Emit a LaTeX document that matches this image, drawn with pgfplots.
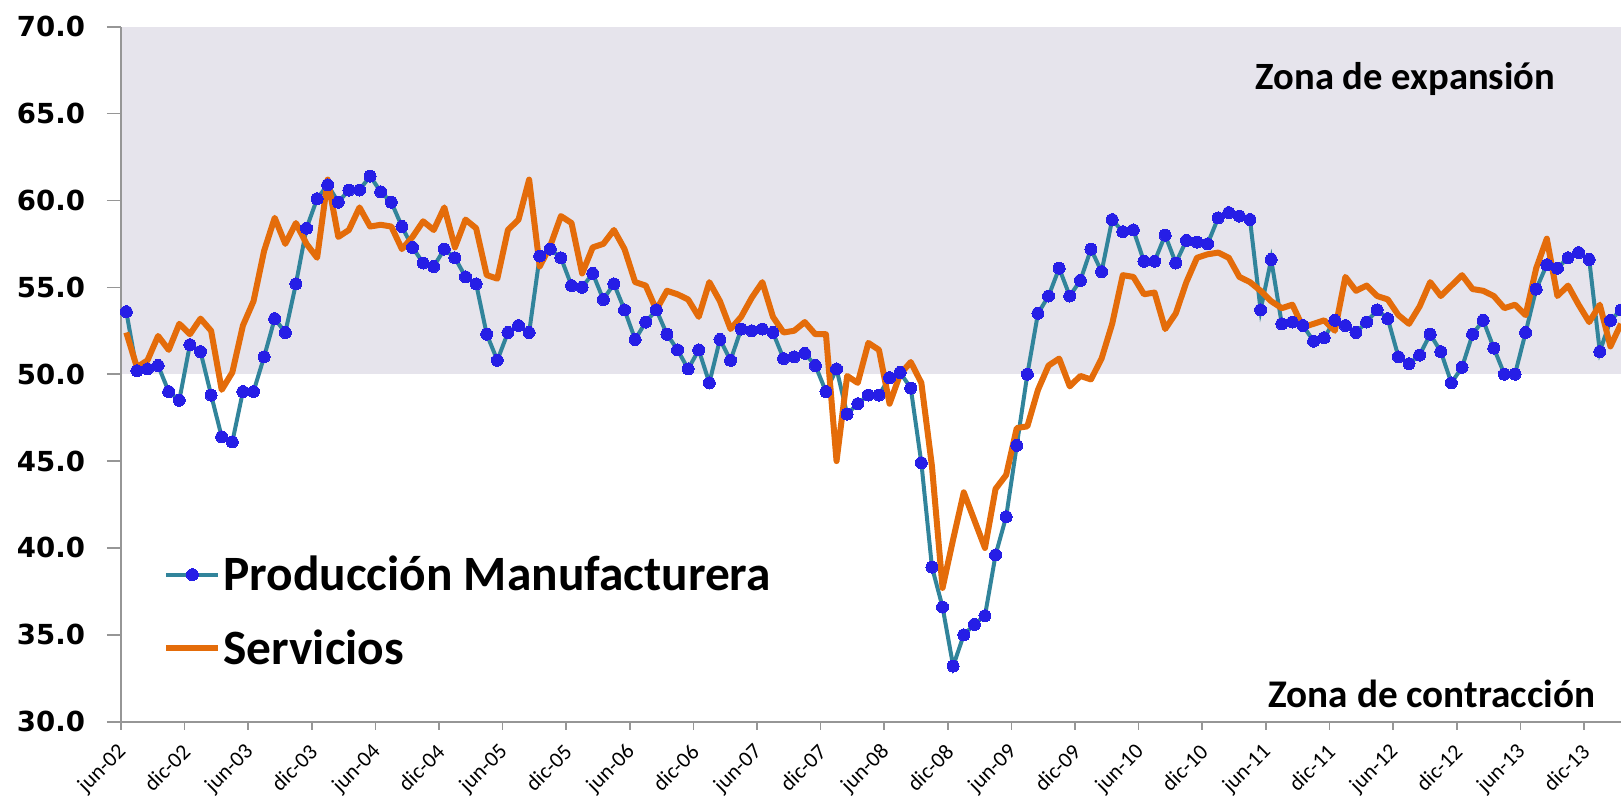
\documentclass[border=0pt]{standalone}
\usepackage{fontspec}
\setmainfont{Carlito}
\newfontfamily\dejavu{DejaVu Sans}
\usepackage{pgfplots}
\usepackage{pgfplotstable}
\pgfplotsset{compat=1.18}

\definecolor{zona}{RGB}{230,228,236}
\definecolor{tealline}{RGB}{49,132,155}
\definecolor{markblue}{RGB}{38,30,230}
\definecolor{servorange}{RGB}{228,108,10}
\definecolor{axisgray}{RGB}{150,150,150}

% month index (0 = jun-02), manufacturing, services
\pgfplotstableread{
m pm sv
0 53.6 52.4
1 50.2 50.4
2 50.3 50.8
3 50.5 52.2
4 49.0 51.4
5 48.5 52.9
6 51.7 52.3
7 51.3 53.2
8 48.8 52.5
9 46.4 49.1
10 46.1 50.1
11 49.0 52.8
12 49.0 54.2
13 51.0 57.1
14 53.2 59.0
15 52.4 57.5
16 55.2 58.7
17 58.4 57.5
18 60.1 56.7
19 60.9 61.2
20 59.9 57.9
21 60.6 58.3
22 60.6 59.6
23 61.4 58.5
24 60.5 58.6
25 59.9 58.5
26 58.5 57.2
27 57.3 57.9
28 56.4 58.8
29 56.2 58.3
30 57.2 59.6
31 56.7 57.3
32 55.6 58.9
33 55.2 58.4
34 52.3 55.7
35 50.8 55.5
36 52.4 58.3
37 52.8 58.9
38 52.4 61.2
39 56.8 56.2
40 57.2 57.4
41 56.7 59.1
42 55.1 58.7
43 55.0 55.8
44 55.8 57.3
45 54.3 57.5
46 55.2 58.3
47 53.7 57.2
48 52.0 55.3
49 53.0 55.1
50 53.7 53.7
51 52.3 54.8
52 51.4 54.6
53 50.3 54.3
54 51.4 53.3
55 49.5 55.3
56 52.0 54.2
57 50.8 52.6
58 52.6 53.3
59 52.5 54.4
60 52.6 55.3
61 52.4 53.3
62 50.9 52.4
63 51.0 52.5
64 51.2 53.0
65 50.5 52.3
66 49.0 52.3
67 50.3 45.0
68 47.7 49.9
69 48.3 49.5
70 48.8 51.8
71 48.8 51.4
72 49.8 48.3
73 50.1 50.0
74 49.2 50.7
75 44.9 49.5
76 38.9 44.7
77 36.6 37.7
78 33.2 40.5
79 35.0 43.2
80 35.6 41.6
81 36.1 40.0
82 39.6 43.4
83 41.8 44.2
84 45.9 46.9
85 50.0 47.0
86 53.5 49.1
87 54.5 50.5
88 56.1 50.9
89 54.5 49.3
90 55.4 49.9
91 57.2 49.7
92 55.9 50.9
93 58.9 52.9
94 58.2 55.7
95 58.3 55.6
96 56.5 54.6
97 56.5 54.7
98 58.0 52.6
99 56.4 53.5
100 57.7 55.3
101 57.6 56.7
102 57.5 56.9
103 59.0 57.0
104 59.3 56.7
105 59.1 55.6
106 58.9 55.3
107 53.7 54.8
108 56.6 54.2
109 52.9 53.8
110 53.0 54.0
111 52.8 52.7
112 51.9 52.9
113 52.1 53.1
114 53.1 52.5
115 52.8 55.6
116 52.4 54.8
117 53.0 55.1
118 53.7 54.5
119 53.2 54.3
120 51.0 53.4
121 50.6 52.9
122 51.1 53.9
123 52.3 55.3
124 51.3 54.5
125 49.5 55.1
126 50.4 55.7
127 52.3 54.9
128 53.1 54.8
129 51.5 54.5
130 50.0 53.8
131 50.0 54.0
132 52.4 53.4
133 54.9 56.1
134 56.3 57.8
135 56.1 54.5
136 56.7 55.1
137 57.0 54.0
138 56.6 53.0
139 51.3 54.0
140 53.1 51.6
141 53.7 52.9
}\imef

\begin{document}
\begin{tikzpicture}
\path[use as bounding box] (-60.5bp,-38.65bp) rectangle (750bp,360.85bp);
\begin{axis}[
  at={(0,0)}, anchor=south west,
  scale only axis,
  width=750bp, height=347.5bp,
  xmin=-0.5, xmax=141,
  ymin=30, ymax=70,
  axis lines*=left,
  axis line style={axisgray, line width=1bp},
  tick align=outside,
  xtick={-0.5,5.5,...,137.5},
  xticklabels={jun-02,dic-02,jun-03,dic-03,jun-04,dic-04,jun-05,dic-05,jun-06,dic-06,jun-07,dic-07,jun-08,dic-08,jun-09,dic-09,jun-10,dic-10,jun-11,dic-11,jun-12,dic-12,jun-13,dic-13},
  xtick style={axisgray, line width=0.8bp, /pgfplots/major tick length=4bp},
  ytick={30,35,...,70},
  ytick style={axisgray, line width=0.8bp, /pgfplots/major tick length=7bp},
  /pgf/number format/assume math mode=true,
  yticklabel={\pgfmathprintnumber[fixed,fixed zerofill,precision=1]{\tick}},
  yticklabel style={font=\dejavu\bfseries\fontsize{13.8bp}{16bp}\selectfont, inner sep=0pt, xshift=-13.5bp},
  xticklabel style={font=\fontsize{11bp}{13bp}\selectfont, inner sep=0pt, xshift=1bp, yshift=-9bp, rotate=45, anchor=east},
  legend style={at={(0.028,0.1586)}, anchor=west, draw=none, fill=none, inner sep=0pt,
    font=\bfseries\fontsize{24.7bp}{29bp}\selectfont, row sep=16bp, nodes={inner sep=1bp}},
  legend cell align=left,
  legend image code/.code={\draw[mark repeat=2,mark phase=2,#1] plot coordinates {(0bp,0bp) (13bp,0bp) (26bp,0bp)};},
  axis on top,
]
\fill[zona] (rel axis cs:0,0.5) rectangle (rel axis cs:1,1);
\addplot[tealline, line width=2bp, mark=*, mark size=3bp, mark options={fill=markblue, draw=markblue, line width=0pt}]
  table[x=m, y=pm] {\imef};
\addlegendentry{Producción Manufacturera}
\addplot[servorange, line width=3bp, no marks, line join=round]
  table[x=m, y=sv] {\imef};
\addlegendentry{Servicios}
\node[anchor=base west, inner sep=0pt, font=\bfseries\fontsize{19.3bp}{22bp}\selectfont] at (axis cs:106.5,66.36) {Zona de expansión};
\node[anchor=base west, inner sep=0pt, font=\bfseries\fontsize{19.6bp}{22bp}\selectfont] at (axis cs:107.7,30.79) {Zona de contracción};
\end{axis}
\end{tikzpicture}
\end{document}
